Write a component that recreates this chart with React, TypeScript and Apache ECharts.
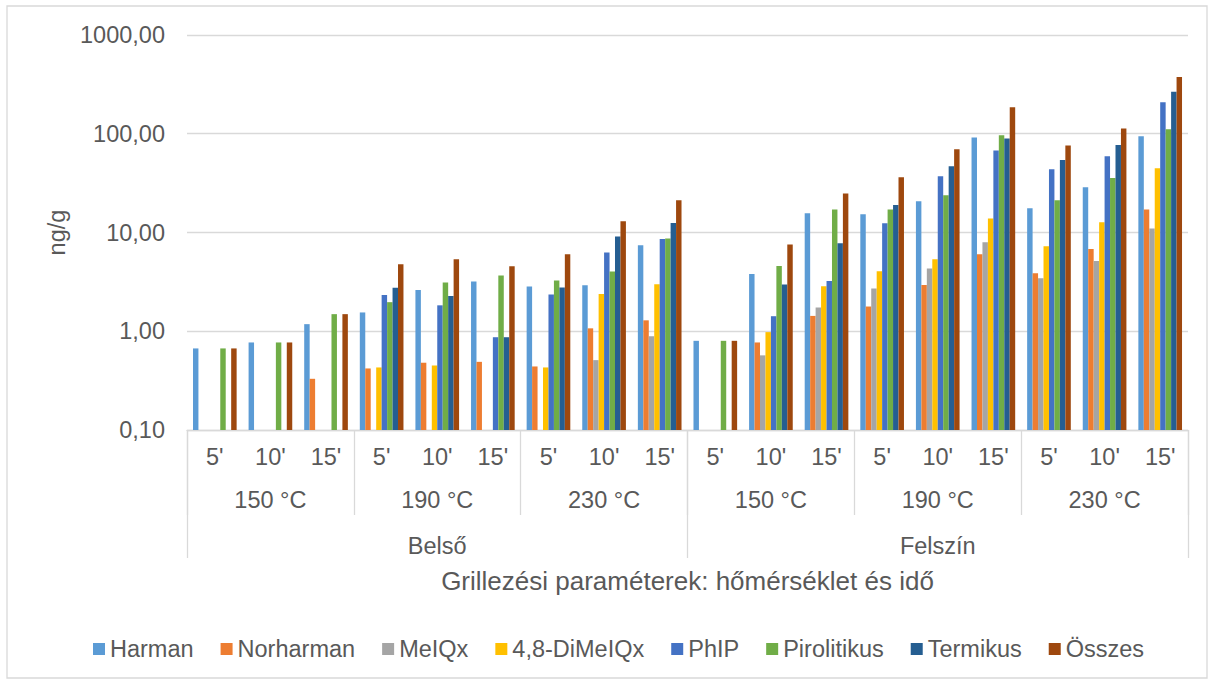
import React, { useEffect, useRef } from "react";
import * as echarts from "echarts";

const times = ["5'", "10'", "15'", "5'", "10'", "15'", "5'", "10'", "15'", "5'", "10'", "15'", "5'", "10'", "15'", "5'", "10'", "15'"];
const temps = ["150 °C", "190 °C", "230 °C", "150 °C", "190 °C", "230 °C"];
const groups = ["Belső", "Felszín"];
const yTicks = [0.1, 1, 10, 100, 1000];

const harman = [0.67, 0.77, 1.18, 1.55, 2.62, 3.19, 2.84, 2.92, 7.43, 0.8, 3.8, 15.7, 15.3, 20.7, 91.5, 17.6, 28.7, 94.4];
const norharman = [null, null, 0.33, 0.42, 0.48, 0.49, 0.44, 1.07, 1.29, null, 0.77, 1.43, 1.78, 2.94, 6.02, 3.87, 6.81, 17.1];
const meiqx = [null, null, null, null, null, null, null, 0.51, 0.89, null, 0.57, 1.74, 2.71, 4.31, 7.96, 3.44, 5.15, 11.0];
const dimeiqx = [null, null, null, 0.43, 0.45, null, 0.43, 2.39, 2.99, null, 0.98, 2.86, 4.05, 5.36, 13.9, 7.26, 12.7, 44.7];
const phip = [null, null, null, 2.33, 1.83, 0.87, 2.35, 6.27, 8.6, null, 1.42, 3.23, 12.4, 37.1, 67.6, 43.7, 59.2, 208];
const pirolitikus = [0.67, 0.77, 1.49, 1.97, 3.11, 3.66, 3.26, 4.02, 8.7, 0.8, 4.58, 17.1, 17.1, 23.8, 96.6, 21.2, 35.7, 111];
const termikus = [null, null, null, 2.75, 2.28, 0.87, 2.77, 9.1, 12.5, null, 2.97, 7.78, 19.0, 46.9, 89.4, 54.3, 77.1, 267];
const osszes = [0.67, 0.77, 1.49, 4.77, 5.36, 4.55, 6.02, 13.0, 21.2, 0.8, 7.55, 24.8, 36.3, 69.7, 185, 75.9, 113, 376];

const seriesNames = ["Harman", "Norharman", "MeIQx", "4,8-DiMeIQx", "PhIP", "Pirolitikus", "Termikus", "Összes"];
const seriesData = [harman, norharman, meiqx, dimeiqx, phip, pirolitikus, termikus, osszes];
const colors = ["#5B9BD5", "#ED7D31", "#A5A5A5", "#FFC000", "#4472C4", "#70AD47", "#255E91", "#9E480E"];

const FONT = "'Liberation Sans', Arial, sans-serif";
const TXT = "#595959";
const GRID = "#d9d9d9";

export default function App() {
  const ref = useRef<HTMLDivElement>(null);
  useEffect(() => {
    if (!ref.current) return;
    const chart = echarts.init(ref.current, null, { renderer: "svg" });
    const option: any = {
      animation: false,
      textStyle: { fontFamily: FONT, color: TXT },
      color: colors,
      grid: { left: 187, right: 26, top: 35, bottom: 254, containLabel: false },
      graphic: [
        {
          type: "rect",
          shape: { x: 7, y: 6, width: 1200, height: 672 },
          style: { fill: "none", stroke: GRID, lineWidth: 1.3 },
          silent: true,
        },
      ],
      legend: {
        data: seriesNames,
        left: 93,
        top: 637,
        padding: 0,
        icon: "rect",
        itemWidth: 12,
        itemHeight: 12,
        itemGap: 27,
        textStyle: { fontSize: 23.5, color: TXT, fontFamily: FONT, padding: [0, 0, 0, 0] },
      },
      xAxis: [
        {
          type: "category",
          data: times,
          position: "bottom",
          axisLine: { show: true, lineStyle: { color: GRID, width: 1.3 } },
          axisTick: { show: false },
          axisLabel: { interval: 0, margin: 15, fontSize: 23.5, color: TXT, fontFamily: FONT },
          splitLine: { show: false },
        },
        {
          type: "category",
          data: temps,
          position: "bottom",
          axisLine: { show: false },
          axisTick: { show: true, interval: 0, length: 85, lineStyle: { color: GRID, width: 1.3 } },
          axisLabel: { interval: 0, margin: 58, fontSize: 23.5, color: TXT, fontFamily: FONT },
        },
        {
          type: "category",
          data: groups,
          position: "bottom",
          axisLine: { show: false },
          axisTick: { show: true, interval: 0, length: 128, lineStyle: { color: GRID, width: 1.3 } },
          axisLabel: { interval: 0, margin: 104, fontSize: 23.5, color: TXT, fontFamily: FONT },
          name: "Grillezési paraméterek: hőmérséklet és idő",
          nameLocation: "middle",
          nameGap: 138,
          nameTextStyle: { fontSize: 26, color: TXT, fontFamily: FONT },
        },
      ],
      yAxis: {
        type: "log",
        logBase: 10,
        min: yTicks[0],
        max: yTicks[yTicks.length - 1],
        startValue: yTicks[0],
        splitNumber: 4,
        axisLine: { show: false },
        axisTick: { show: false },
        axisLabel: {
          margin: 22,
          fontSize: 23.5,
          color: TXT,
          fontFamily: FONT,
          formatter: (v: number) => v.toFixed(2).replace(".", ","),
        },
        splitLine: { show: true, lineStyle: { color: GRID, width: 1.3 } },
        name: "ng/g",
        nameLocation: "middle",
        nameGap: 116,
        nameTextStyle: { fontSize: 23.5, color: TXT, fontFamily: FONT },
      },
      series: seriesNames.map((name, i) => ({
        name,
        type: "bar",
        xAxisIndex: 0,
        data: seriesData[i],
        barGap: "0%",
        barCategoryGap: "21.5%",
        itemStyle: { color: colors[i] },
      })),
    };
    chart.setOption(option);
    return () => chart.dispose();
  }, []);
  return (
    <div
      ref={ref}
      style={{ position: "absolute", left: 0, top: 0, width: 1214, height: 684, background: "#fff" }}
    />
  );
}
